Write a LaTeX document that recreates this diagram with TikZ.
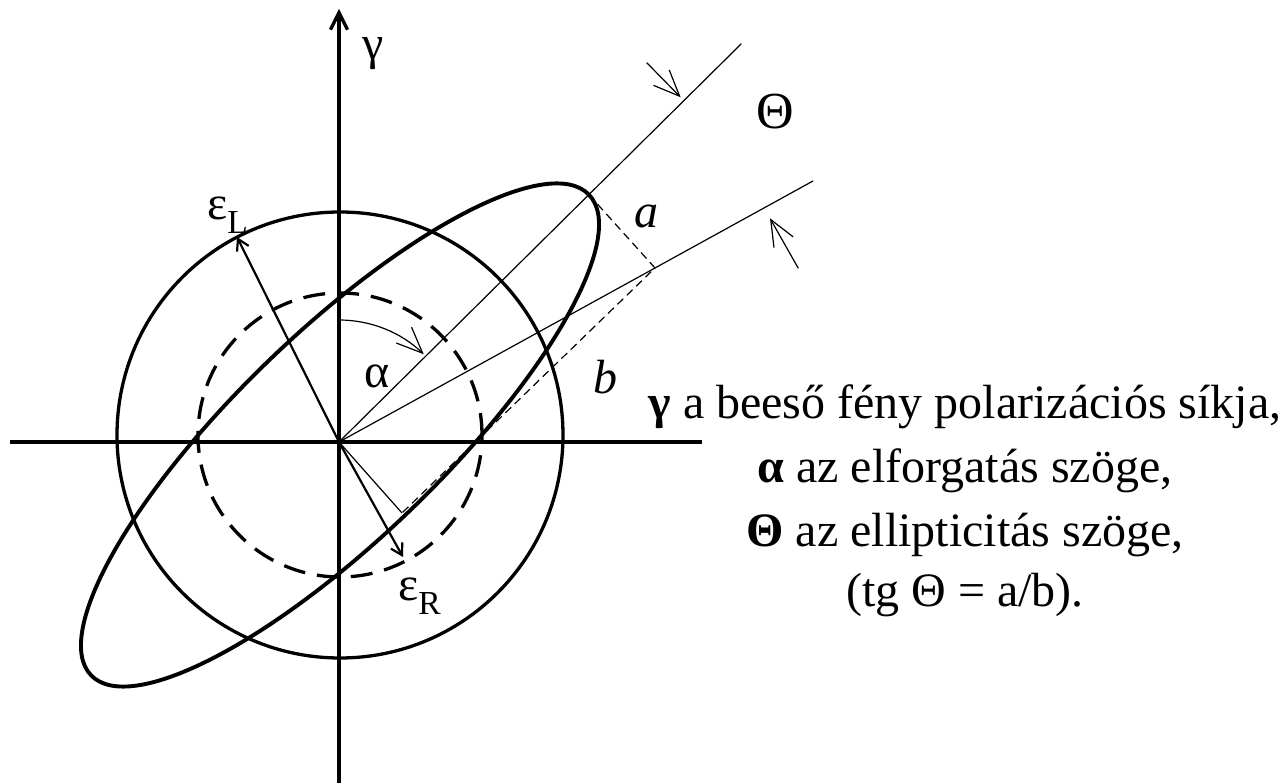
\documentclass[tikz,border=0pt]{standalone}
\usepackage{fontspec}
\setmainfont{Liberation Serif}
\usetikzlibrary{arrows.meta,calc}
\begin{document}
\begin{tikzpicture}[x=1pt,y=1pt,
  axisline/.style={line width=3.3pt},
  thickcurve/.style={line width=3.3pt},
  thinline/.style={line width=1.2pt},
  vecline/.style={line width=2.2pt,-{Straight Barb[length=11pt,width=13pt]}},
  anglearrow/.style={line width=1.2pt,-{Straight Barb[length=26pt,width=22pt]}},
  auxdash/.style={line width=1.2pt,dash pattern=on 8pt off 5pt},
  lbl/.style={font=\fontsize{48}{58}\selectfont,inner sep=0pt},
  txt/.style={font=\fontsize{48}{58}\selectfont,inner sep=0pt,anchor=base}]
\useasboundingbox (-339,-341) rectangle (949,442);
% key points
\coordinate (O) at (0,0);
\coordinate (C) at (1,7);
\coordinate (ytop) at (0,433);
\coordinate (ybot) at (0,-341);
\coordinate (xl) at (-329,0);
\coordinate (xr) at (363,0);
\coordinate (M) at ($(C)+(44:346)$);
\coordinate (P) at (316,174);
\coordinate (N) at (63,-71);
\coordinate (L1) at ($(O)!1.61!(M)$);
\coordinate (L2) at ($(O)!1.5!(P)$);
\coordinate (EL) at (-102,205);
\coordinate (ER) at (64,-115);
\coordinate (arcstart) at (90:122);
\coordinate (T1s) at (307.7,379.3);
\coordinate (T1e) at (341.7,344.7);
\coordinate (T2s) at (459.3,173.7);
\coordinate (T2e) at (431,223.7);
% axes
\draw[axisline,-{Straight Barb[length=17pt,width=17pt]}] (ybot) -- (ytop);
\draw[axisline] (xl) -- (xr);
% circles and ellipse
\draw[thickcurve] (C) circle[radius=223];
\draw[thickcurve,dash pattern=on 22pt off 12pt] (C) circle[radius=142];
\draw[line width=3.9pt,shift={(C)},rotate=44] (0,0) ellipse[x radius=346,y radius=103];
% construction lines
\draw[thinline] (O) -- (L1);
\draw[thinline] (O) -- (L2);
\draw[thinline] (O) -- (N);
\draw[auxdash] (M) -- (P) -- (N);
% vectors
\draw[vecline] (O) -- (EL);
\draw[vecline] (O) -- (ER);
% angle arrows
\draw[anglearrow] (arcstart) arc[start angle=90,end angle=46,radius=122];
\draw[anglearrow] (T1s) -- (T1e);
\draw[anglearrow] (T2s) -- (T2e);
% labels
\node[lbl] (gam) at (33.7,388.7) {γ};
\node[lbl,font=\fontsize{52}{60}\selectfont] (theta) at (436,330) {Θ};
\node[lbl] (la) at (307.7,225.3) {\textit{a}};
\node[lbl] (lb) at (266,65.3) {\textit{b}};
\node[lbl] (lal) at (37.7,65.3) {α};
\node[lbl,anchor=base west] (eL) at (-132,222) {ε\textsubscript{L}};
\node[lbl,anchor=base west] (eR) at (59,-159) {ε\textsubscript{R}};
% legend text
\node[txt] (t1) at (626,23) {\textbf{γ} a beeső fény polarizációs síkja,};
\node[txt] (t2) at (626,-41) {\textbf{α} az elforgatás szöge,};
\node[txt] (t3) at (626,-105) {\textbf{Θ} az ellipticitás szöge,};
\node[txt] (t4) at (626,-165) {(tg Θ = a/b).};
\end{tikzpicture}
\end{document}
